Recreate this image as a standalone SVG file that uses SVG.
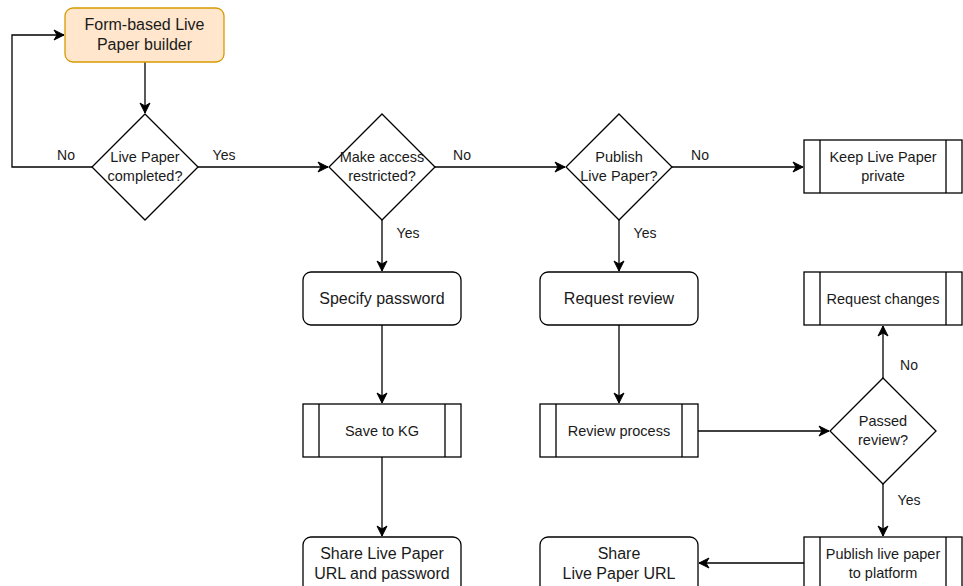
<svg xmlns="http://www.w3.org/2000/svg" width="963" height="586" viewBox="0 0 963 586">
<defs>
<marker id="ah" viewBox="0 0 12 12" refX="11" refY="6" markerWidth="12" markerHeight="12" markerUnits="userSpaceOnUse" orient="auto">
<path d="M1,1 L11,6 L1,11 L4,6 Z" fill="#000" stroke="#000" stroke-width="1"/>
</marker>
</defs>
<style>
.s{fill:#fff;stroke:#000;stroke-width:1.3}
.start{fill:#ffe6cc;stroke:#d79b00;stroke-width:1.3}
.c{fill:none;stroke:#000;stroke-width:1.3;marker-end:url(#ah)}
text{font-family:"Liberation Sans",Arial,sans-serif;fill:#1a1a1a;text-anchor:middle}
.t16{font-size:16px}
.t14{font-size:14.5px}
.lb{font-size:14px}
</style>
<rect width="963" height="586" fill="#fff"/>
<g id="connectors">
<path class="c" d="M145,62 L145,113"/>
<path class="c" d="M92,167 L12,167 L12,35 L64,35"/>
<path class="c" d="M198,167 L328,167"/>
<path class="c" d="M435,167 L565,167"/>
<path class="c" d="M672,167 L803,167"/>
<path class="c" d="M382,220 L382,271"/>
<path class="c" d="M382,325 L382,403"/>
<path class="c" d="M382,457 L382,536"/>
<path class="c" d="M619,220 L619,271"/>
<path class="c" d="M619,325 L619,403"/>
<path class="c" d="M698,431 L829,431"/>
<path class="c" d="M883,378 L883,326"/>
<path class="c" d="M883,484 L883,536"/>
<path class="c" d="M804,563 L699,563"/>
<text class="lb" x="66" y="160">No</text>
<text class="lb" x="224" y="160">Yes</text>
<text class="lb" x="462" y="160">No</text>
<text class="lb" x="700" y="160">No</text>
<text class="lb" x="408" y="238">Yes</text>
<text class="lb" x="645" y="238">Yes</text>
<text class="lb" x="909" y="370">No</text>
<text class="lb" x="909" y="505">Yes</text>
</g>
<g id="start">
<rect class="start" x="65" y="8" width="159" height="54" rx="8"/>
<text class="t16" x="144.5" y="30">Form-based Live</text>
<text class="t16" x="144.5" y="50">Paper builder</text>
</g>
<g id="d-completed">
<path class="s" d="M145,114 L198,167 L145,220 L92,167 Z"/>
<text class="t14" x="145" y="162">Live Paper</text>
<text class="t14" x="145" y="181">completed?</text>
</g>
<g id="d-restricted">
<path class="s" d="M382,114 L435,167 L382,220 L329,167 Z"/>
<text class="t14" x="382" y="162">Make access</text>
<text class="t14" x="382" y="181">restricted?</text>
</g>
<g id="d-publish">
<path class="s" d="M619,114 L672,167 L619,220 L566,167 Z"/>
<text class="t14" x="619" y="162">Publish</text>
<text class="t14" x="619" y="181">Live Paper?</text>
</g>
<g id="keep-private">
<rect class="s" x="804" y="140" width="158" height="53"/>
<path class="s" d="M820,140 V193 M946,140 V193"/>
<text class="t14" x="883" y="162">Keep Live Paper</text>
<text class="t14" x="883" y="181">private</text>
</g>
<g id="specify-password">
<rect class="s" x="303" y="272" width="158" height="53" rx="8"/>
<text class="t16" x="382" y="304">Specify password</text>
</g>
<g id="save-kg">
<rect class="s" x="303" y="404" width="158" height="53"/>
<path class="s" d="M319,404 V457 M445,404 V457"/>
<text class="t14" x="382" y="436">Save to KG</text>
</g>
<g id="share-password">
<rect class="s" x="303" y="537" width="158" height="60" rx="8"/>
<text class="t16" x="382" y="559">Share Live Paper</text>
<text class="t16" x="382" y="579">URL and password</text>
</g>
<g id="request-review">
<rect class="s" x="540" y="272" width="158" height="53" rx="8"/>
<text class="t16" x="619" y="304">Request review</text>
</g>
<g id="review-process">
<rect class="s" x="540" y="404" width="158" height="53"/>
<path class="s" d="M556,404 V457 M682,404 V457"/>
<text class="t14" x="619" y="436">Review process</text>
</g>
<g id="share-url">
<rect class="s" x="540" y="537" width="158" height="60" rx="8"/>
<text class="t16" x="619" y="559">Share</text>
<text class="t16" x="619" y="579">Live Paper URL</text>
</g>
<g id="request-changes">
<rect class="s" x="804" y="272" width="158" height="53"/>
<path class="s" d="M820,272 V325 M946,272 V325"/>
<text class="t14" x="883" y="304">Request changes</text>
</g>
<g id="d-passed">
<path class="s" d="M883,378 L936,431 L883,484 L830,431 Z"/>
<text class="t14" x="883" y="426">Passed</text>
<text class="t14" x="883" y="445">review?</text>
</g>
<g id="publish-platform">
<rect class="s" x="804" y="537" width="158" height="60"/>
<path class="s" d="M820,537 V597 M946,537 V597"/>
<text class="t14" x="883" y="559">Publish live paper</text>
<text class="t14" x="883" y="578">to platform</text>
</g>
</svg>
